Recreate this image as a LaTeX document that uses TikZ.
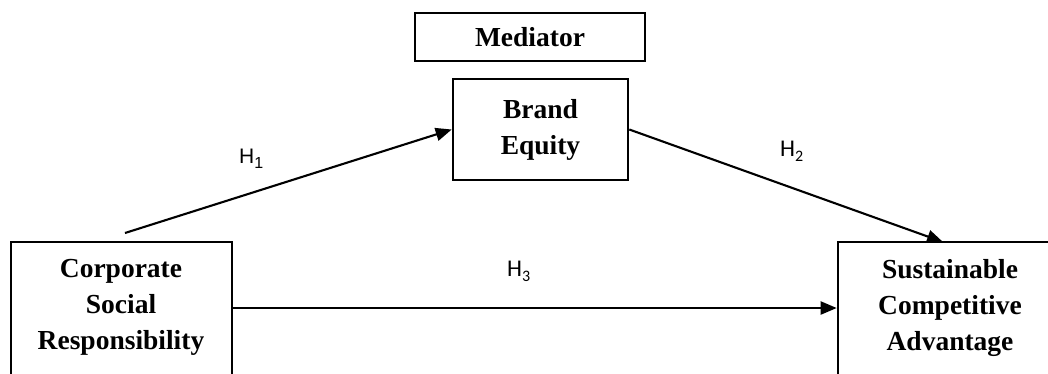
\documentclass[tikz,border=0pt]{standalone}
\usepackage{fontspec}
\setmainfont{Liberation Serif}
\newfontfamily\hfont{Carlito}
\newfontfamily\hfontA{Liberation Sans}
\usetikzlibrary{arrows.meta}
\newcommand\hsub[1]{\raisebox{-5pt}{\fontsize{16}{16}\selectfont #1}}
\begin{document}
\begin{tikzpicture}[x=1pt,y=-1pt,
  box/.style={draw, line width=2.6pt, inner sep=0pt},
  btext/.style={font=\fontsize{27.5}{36}\selectfont\bfseries, align=center, inner sep=0pt},
  hlab/.style={font=\hfont\fontsize{24}{24}\selectfont, inner sep=0pt, anchor=base west},
  conn/.style={line width=2.1pt, -{Triangle[length=16pt,width=13pt]}}
]
\useasboundingbox (0,0) rectangle (1048,373);
\clip (0,0) rectangle (1048,373);

\node[box, btext, minimum width=230, minimum height=48] (med) at (530,37) {Mediator};
\node[box, btext, minimum width=175, minimum height=101] (be) at (540.5,129.5) {Brand\\Equity};

\node[box, minimum width=221, minimum height=200] (csr) at (121.5,342) {};
\node[btext] (csrt) at (121,307.5) {Corporate\\Social\\Responsibility};

\node[box, minimum width=224, minimum height=200] (sca) at (950,342) {};
\node[btext] (scat) at (950,307.5) {Sustainable\\Competitive\\Advantage};

\coordinate (h1s) at (125,233);
\coordinate (h2e) at (943,242);
\coordinate (h3y) at (0,308);

\draw[conn] (h1s) -- (be.west);
\draw[conn] (be.east) -- (h2e);
\draw[conn] (csr.east |- h3y) -- (sca.west |- h3y);

\node[hlab, font=\hfontA\fontsize{21}{21}\selectfont] (h1) at (239,163) {H\hsub{1}};
\node[hlab] (h2) at (780,156) {H\hsub{2}};
\node[hlab] (h3) at (507,276) {H\hsub{3}};
\end{tikzpicture}
\end{document}
